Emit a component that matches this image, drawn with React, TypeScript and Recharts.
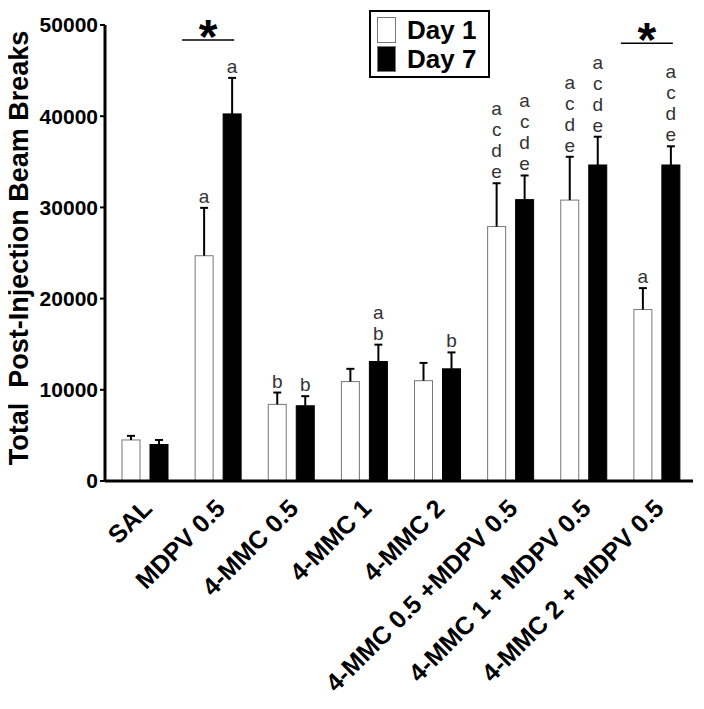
import { BarChart, Bar, XAxis, YAxis } from 'recharts';

const groups = [
  'SAL',
  'MDPV 0.5',
  '4-MMC 0.5',
  '4-MMC 1',
  '4-MMC 2',
  '4-MMC 0.5 +MDPV 0.5',
  '4-MMC 1 + MDPV 0.5',
  '4-MMC 2 + MDPV 0.5',
];
const day1 = [4500, 24700, 8400, 10900, 11000, 27900, 30800, 18800];
const day1Err = [450, 5250, 1300, 1400, 1950, 4750, 4750, 2350];
const day7 = [4000, 40250, 8250, 13100, 12300, 30850, 34650, 34650];
const day7Err = [500, 3950, 1050, 1850, 1800, 2650, 3100, 2050];
const day1Letters = ['', 'a', 'b', '', '', 'acde', 'acde', 'a'];
const day7Letters = ['', 'a', 'b', 'ab', 'b', 'acde', 'acde', 'acde'];
// height of the "*" bracket over a group (null = none)
const starLevel = [null, 48350, null, null, null, null, null, 48000];
const yTicks = [0, 10000, 20000, 30000, 40000, 50000];

const data = groups.map((g, i) => ({
  group: g,
  day1: day1[i],
  day1Err: day1Err[i],
  day7: day7[i],
  day7Err: day7Err[i],
  day1Letters: day1Letters[i],
  day7Letters: day7Letters[i],
  star: starLevel[i],
}));

const FONT = "'Liberation Sans', Arial, sans-serif";

const makeShape = (key: 'day1' | 'day7') => (props: any) => {
  const { x, y, width, height, payload } = props;
  const v = payload[key];
  const err = payload[key + 'Err'];
  const px = height / v;
  const top = y - err * px;
  const cx = x + width / 2;
  const letters: string = payload[key + 'Letters'] || '';
  const white = key === 'day1';
  const base = top - 5;
  let star = null;
  if (key === 'day7' && payload.star != null) {
    const ly = y + height - payload.star * px;
    const x1 = x - 28 - 13;
    const x2 = x + width - 7;
    star = (
      <g>
        <line x1={x1} x2={x2} y1={ly} y2={ly} stroke="#000" strokeWidth={1.5} />
        <text x={(x1 + x2) / 2} y={ly + 13} textAnchor="middle" fontSize={48} fontWeight="bold" fontFamily={FONT} fill="#000">*</text>
      </g>
    );
  }
  return (
    <g>
      <rect x={x} y={y} width={width} height={height} fill={white ? '#fff' : '#000'} stroke={white ? '#777' : '#000'} strokeWidth={1} />
      <line x1={cx} x2={cx} y1={y} y2={top} stroke="#000" strokeWidth={2} />
      <line x1={cx - 4} x2={cx + 4} y1={top} y2={top} stroke="#000" strokeWidth={2} />
      {letters.split('').map((l, i) => (
        <text key={i} x={cx} y={base - (letters.length - 1 - i) * 21} textAnchor="middle" fontSize={19} fontFamily={FONT} fill="#333">{l}</text>
      ))}
      {star}
    </g>
  );
};

const XTick = (props: any) => {
  const { x, y, payload } = props;
  const ax = x + 9;
  const ay = y + 29;
  return (
    <text x={ax} y={ay} transform={`rotate(-45, ${ax}, ${ay})`} textAnchor="end" fontSize={25} fontWeight="bold" fontFamily={FONT} fill="#000">
      {payload.value}
    </text>
  );
};

const YLabel = () => (
  <text x={28} y={248} transform="rotate(-90, 28, 248)" textAnchor="middle" fontSize={27} fontWeight="bold" fontFamily={FONT} fill="#000" style={{ whiteSpace: 'pre' }}>
    {'Total  Post-Injection Beam Breaks'}
  </text>
);

const LegendBox = () => (
  <div style={{ position: 'absolute', top: 10, left: 369, border: '2px solid #000', background: '#fff', padding: '3px 12px 3px 6px', fontFamily: FONT }}>
    {[
      { label: 'Day 1', fill: '#fff' },
      { label: 'Day 7', fill: '#000' },
    ].map((it) => (
      <div key={it.label} style={{ display: 'flex', alignItems: 'center', height: 29 }}>
        <div style={{ width: 17, height: 24, background: it.fill, border: '1px solid #777', marginRight: 11 }} />
        <span style={{ fontSize: 26, fontWeight: 'bold', lineHeight: '26px' }}>{it.label}</span>
      </div>
    ))}
  </div>
);

export default function App() {
  return (
    <div style={{ fontFamily: FONT, position: 'relative', width: 704, height: 709, margin: '-8px 0 0 -8px' }}>
      <BarChart
        width={704}
        height={709}
        data={data}
        margin={{ top: 25, right: 11, left: 8, bottom: 0 }}
        barSize={18}
        barGap={10}
      >
        <XAxis
          dataKey="group"
          interval={0}
          height={228}
          padding={{ left: 3, right: 0 }}
          axisLine={{ stroke: '#000', strokeWidth: 3 }}
          tickLine={false}
          tickSize={0}
          tickMargin={0}
          tick={<XTick />}
        />
        <YAxis
          width={97}
          domain={[0, 50000]}
          ticks={yTicks}
          interval={0}
          axisLine={{ stroke: '#000', strokeWidth: 3 }}
          tickLine={{ stroke: '#000', strokeWidth: 2 }}
          tickSize={5}
          tickMargin={2}
          tick={{ fontSize: 21, fontWeight: 'bold', fill: '#000', fontFamily: FONT }}
          label={<YLabel />}
        />
        <Bar dataKey="day1" name="Day 1" isAnimationActive={false} shape={makeShape('day1')} />
        <Bar dataKey="day7" name="Day 7" isAnimationActive={false} shape={makeShape('day7')} />
      </BarChart>
      <LegendBox />
    </div>
  );
}
